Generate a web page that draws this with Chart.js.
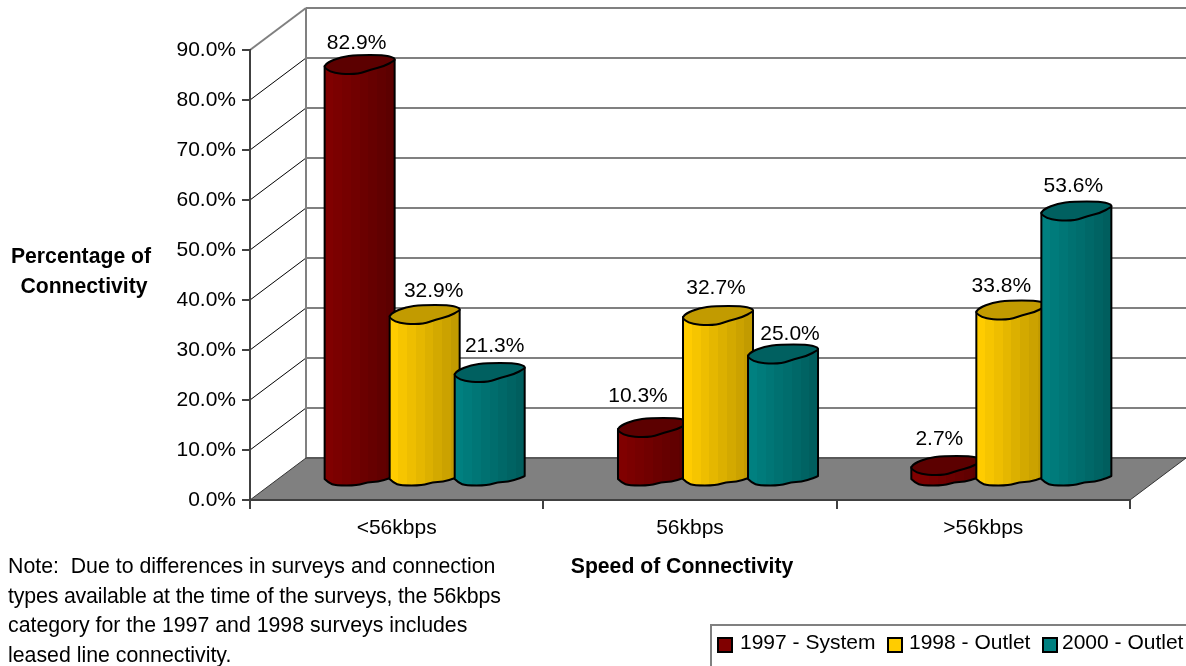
<!DOCTYPE html>
<html>
<head>
<meta charset="utf-8">
<title>Speed of Connectivity</title>
<script src="https://cdn.jsdelivr.net/npm/chart.js@4/dist/chart.umd.min.js"></script>
<style>
  html, body { margin: 0; padding: 0; background: #fff; }
  #wrap { position: relative; width: 1186px; height: 666px; overflow: hidden; font-family: "Liberation Sans", Arial, sans-serif; color: #000; }
  #speed-chart { position: absolute; left: 0; top: 0; }
  #note { position: absolute; left: 8px; top: 552px; font-size: 21.3px; line-height: 29.7px; white-space: pre; }
  #legend { position: absolute; left: 710px; top: 624px; width: 500px; height: 60px; box-sizing: border-box; border: 2px solid #808080; font-size: 21px; }
  #legend span { position: absolute; top: 3px; line-height: 26px; white-space: pre; }
  #legend i { position: absolute; top: 11px; width: 12px; height: 12px; border: 2px solid #000; }
</style>
</head>
<body>
<div id="wrap">
  <canvas id="speed-chart" width="1186" height="666"></canvas>
  <div id="note"></div>
  <div id="legend"></div>
</div>
<script>
const categories = ["<56kbps", "56kbps", ">56kbps"];
const seriesNames = ["1997 - System", "1998 - Outlet", "2000 - Outlet"];
const system1997 = [82.9, 10.3, 2.7];
const outlet1998 = [32.9, 32.7, 33.8];
const outlet2000 = [21.3, 25.0, 53.6];
const yMax = 90;
const yStep = 10;
const noteLines = [
  "Note:  Due to differences in surveys and connection",
  "types available at the time of the surveys, the 56kbps",
  "category for the 1997 and 1998 surveys includes",
  "leased line connectivity."
];

const FONT = '"Liberation Sans", Arial, sans-serif';
const DEPTH_X = 56, DEPTH_Y = -42;   // front plane to back wall
const CYL_WIDTH = 70;

// side colour (left, right) and cap colour of each series
const SHADES = [
  { light: [128, 0, 0], dark: [92, 0, 0], cap: "#5c0000" },
  { light: [255, 204, 0], dark: [194, 155, 0], cap: "#c29b00" },
  { light: [0, 128, 128], dark: [0, 94, 94], cap: "#006060" }
];
const SWATCH = ["#800000", "#ffcc00", "#008080"];

// hand-placed value labels: [dx, dy] from the cap centre, per series and category
const LABEL_NUDGE = [
  [[-3, -21], [-15, -31], [-7, -26]],
  [[9, -23], [-2, -27], [-10, -24]],
  [[5, -26], [7, -20], [-3, -25]]
];

// lumpy ellipse outlines, x from the left edge, y from the centre line
const CAP_OUTLINE = [
  [0, 1.5], [3, -2], [16, -7.5], [32, -9.5], [59, -9.5], [69, -7], [70, -5], [70, -4],
  [59, 2], [46, 5], [34, 9.5], [16, 9.5], [5, 7], [0, 3]
];
const BASE_EDGE = [
  [0, 3], [4, 7], [11, 9.5], [33, 9.5], [43, 6], [53, 6], [66, 2], [70, 0]
];

const mid = (a, b) => [(a[0] + b[0]) / 2, (a[1] + b[1]) / 2];

function sideGradient(ctx, left, shade) {
  const g = ctx.createLinearGradient(left, 0, left + CYL_WIDTH, 0);
  const bands = 8;
  for (let i = 0; i < bands; i++) {
    const t = i / (bands - 1);
    const c = shade.light.map((v, k) => Math.round(v + (shade.dark[k] - v) * t));
    const css = `rgb(${c[0]},${c[1]},${c[2]})`;
    g.addColorStop(i / bands, css);
    g.addColorStop((i + 1) / bands, css);
  }
  return g;
}

function drawCylinder(ctx, bar, shade) {
  const left = bar.x + DEPTH_X / 2 - CYL_WIDTH / 2;
  const capY = bar.y + DEPTH_Y / 2;
  const baseY = bar.base + DEPTH_Y / 2 - 2;

  // body: down the left edge, round the base, back up the right edge
  const base = BASE_EDGE.map(p => [left + p[0], baseY + p[1]]);
  ctx.beginPath();
  ctx.moveTo(left, capY + 1.5);
  ctx.lineTo(base[0][0], base[0][1]);
  for (let i = 1; i < base.length - 1; i++) {
    const m = mid(base[i], base[i + 1]);
    ctx.quadraticCurveTo(base[i][0], base[i][1], m[0], m[1]);
  }
  ctx.lineTo(base[base.length - 1][0], base[base.length - 1][1]);
  ctx.lineTo(left + CYL_WIDTH, capY - 5);
  ctx.closePath();
  ctx.fillStyle = sideGradient(ctx, left, shade);
  ctx.fill();
  ctx.stroke();

  // cap, rounded through the midpoints of its outline
  const cap = CAP_OUTLINE.map(p => [left + p[0], capY + p[1]]);
  const start = mid(cap[cap.length - 1], cap[0]);
  ctx.beginPath();
  ctx.moveTo(start[0], start[1]);
  cap.forEach((p, i) => {
    const m = mid(p, cap[(i + 1) % cap.length]);
    ctx.quadraticCurveTo(p[0], p[1], m[0], m[1]);
  });
  ctx.closePath();
  ctx.fillStyle = shade.cap;
  ctx.fill();
  ctx.stroke();
}

// back wall, side wall and floor sit behind the axes
const walls = {
  id: "walls",
  beforeDraw(chart) {
    const { ctx, scales: { x, y } } = chart;
    const left = x.left, right = x.right, floor = y.getPixelForValue(0);
    ctx.save();
    y.ticks.forEach(t => {
      const py = y.getPixelForValue(t.value);
      const top = t.value === yMax;
      if (t.value !== 0) {
        ctx.beginPath();
        ctx.moveTo(left, py);
        ctx.lineTo(left + DEPTH_X, py + DEPTH_Y);
        ctx.strokeStyle = top ? "#808080" : "#000";
        ctx.lineWidth = top ? 2 : 1;
        ctx.stroke();
      }
      ctx.beginPath();
      ctx.moveTo(left + DEPTH_X, py + DEPTH_Y);
      ctx.lineTo(right + DEPTH_X, py + DEPTH_Y);
      ctx.strokeStyle = "#808080";
      ctx.lineWidth = 2;
      ctx.stroke();
    });
    ctx.beginPath();
    ctx.moveTo(left + DEPTH_X, y.getPixelForValue(yMax) + DEPTH_Y);
    ctx.lineTo(left + DEPTH_X, floor + DEPTH_Y);
    ctx.strokeStyle = "#808080";
    ctx.lineWidth = 2;
    ctx.stroke();

    ctx.beginPath();
    ctx.moveTo(left, floor);
    ctx.lineTo(left + DEPTH_X, floor + DEPTH_Y);
    ctx.lineTo(right + DEPTH_X, floor + DEPTH_Y);
    ctx.lineTo(right, floor);
    ctx.closePath();
    ctx.fillStyle = "#808080";
    ctx.fill();
    ctx.strokeStyle = "#333";
    ctx.lineWidth = 1;
    ctx.stroke();
    ctx.restore();
  }
};

// cylinders take over from the flat bars, left to right so each overlaps the last
const cylinders = {
  id: "cylinders",
  afterDatasetsDraw(chart) {
    const ctx = chart.ctx;
    ctx.save();
    ctx.strokeStyle = "#000";
    ctx.lineWidth = 2;
    ctx.lineJoin = "round";
    categories.forEach((_, c) => {
      chart.data.datasets.forEach((ds, s) => {
        drawCylinder(ctx, chart.getDatasetMeta(s).data[c], SHADES[s]);
      });
    });

    ctx.fillStyle = "#000";
    ctx.font = "21px " + FONT;
    ctx.textAlign = "center";
    ctx.textBaseline = "middle";
    chart.data.datasets.forEach((ds, s) => {
      chart.getDatasetMeta(s).data.forEach((bar, c) => {
        const n = LABEL_NUDGE[s][c];
        const value = ds.data[c].toFixed(1) + "%";
        ctx.fillText(value, bar.x + DEPTH_X / 2 + n[0], bar.y + DEPTH_Y / 2 + n[1]);
      });
    });

    // axis titles
    ctx.font = "bold 21.2px " + FONT;
    ctx.fillText("Percentage of", 81, 257);
    ctx.fillText("Connectivity", 84, 287);
    ctx.fillText("Speed of Connectivity", 682, 567);
    ctx.restore();
  }
};

const chart = new Chart(document.getElementById("speed-chart"), {
  type: "bar",
  data: {
    labels: categories,
    datasets: [system1997, outlet1998, outlet2000].map((values, i) => ({
      label: seriesNames[i],
      data: values,
      backgroundColor: "rgba(0,0,0,0)",
      borderWidth: 0
    }))
  },
  options: {
    responsive: false,
    animation: false,
    devicePixelRatio: 1,
    categoryPercentage: 0.665,
    barPercentage: 1,
    layout: { padding: { top: 50, right: 56, left: 0, bottom: 0 } },
    plugins: { legend: { display: false }, title: { display: false }, tooltip: { enabled: false } },
    scales: {
      x: {
        afterFit(scale) { scale.height = 166; },
        grid: { drawOnChartArea: false, color: "#404040", lineWidth: 2, tickLength: 9 },
        border: { color: "#404040", width: 2 },
        ticks: { color: "#000", font: { family: FONT, size: 21 }, padding: 7, maxRotation: 0 }
      },
      y: {
        min: 0,
        max: yMax,
        afterFit(scale) { scale.width = 250; },
        grid: { drawOnChartArea: false, color: "#404040", lineWidth: 2, tickLength: 8 },
        border: { color: "#404040", width: 2 },
        ticks: {
          stepSize: yStep,
          color: "#000",
          padding: 6,
          font: { family: FONT, size: 21 },
          callback: v => v.toFixed(1) + "%"
        }
      }
    }
  },
  plugins: [walls, cylinders]
});

// the second note line runs a little tight
const noteBox = document.getElementById("note");
noteLines.forEach((line, i) => {
  const row = document.createElement("div");
  row.textContent = line;
  if (i === 1) row.style.letterSpacing = "-0.15px";
  noteBox.append(row);
});

const legendX = [[5, 28], [175, 197], [330, 350]];
const legendBox = document.getElementById("legend");
seriesNames.forEach((name, i) => {
  const sw = document.createElement("i");
  sw.style.left = legendX[i][0] + "px";
  sw.style.background = SWATCH[i];
  const label = document.createElement("span");
  label.style.left = legendX[i][1] + "px";
  label.textContent = name;
  legendBox.append(sw, label);
});
</script>
</body>
</html>
